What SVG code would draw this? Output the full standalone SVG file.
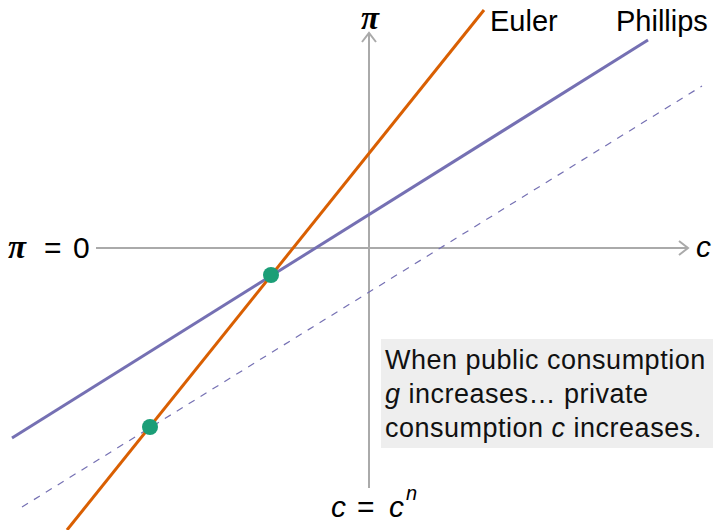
<svg xmlns="http://www.w3.org/2000/svg" width="717" height="530" viewBox="0 0 717 530">
<style>
.axis{stroke:#aaaaaa;stroke-width:2;fill:none}
.euler{stroke:#d95f02;stroke-width:3;fill:none}
.phil{stroke:#7570b3;stroke-width:3;fill:none}
.phil2{stroke:#7570b3;stroke-width:1.2;fill:none;stroke-dasharray:7 7}
.dot{fill:#1b9e77}
.lbl{font-family:"Liberation Sans",Arial,sans-serif;font-size:29px;fill:#000}
.math{font-family:"Liberation Sans",Arial,sans-serif;font-size:30px;fill:#000}
.mi{font-style:italic}
.pi{font-family:"Liberation Serif","Times New Roman",serif;font-style:italic;font-weight:bold;font-size:33px;fill:#000}
.note{font-family:"Liberation Sans",Arial,sans-serif;font-size:27px;fill:#111;letter-spacing:0.5px}
</style>
<rect width="717" height="530" fill="#ffffff"/>
<g id="axes">
<line class="axis" x1="96" y1="248" x2="688" y2="248"/>
<polyline class="axis" points="679,241 688,248 679,255"/>
<line class="axis" x1="369" y1="488" x2="369" y2="33"/>
<polyline class="axis" points="362,42 369,33 376,42"/>
</g>
<g id="connectors">
<line class="phil2" x1="22" y1="507" x2="702" y2="86"/>
<line class="phil" x1="12" y1="438" x2="648" y2="40"/>
<line class="euler" x1="67" y1="530" x2="484" y2="10"/>
</g>
<g id="dot-old"><circle class="dot" cx="271" cy="275" r="8"/></g>
<g id="dot-new"><circle class="dot" cx="150" cy="427" r="8"/></g>
<g id="label-euler"><text class="lbl" x="490" y="31">Euler</text></g>
<g id="label-phillips"><text class="lbl" x="616" y="31">Phillips</text></g>
<g id="label-pi"><text class="pi" x="361" y="29">π</text></g>
<g id="label-pi0"><text class="pi" x="8" y="258">π</text><text class="math" x="44" y="258">=</text><text class="math" x="73" y="258">0</text></g>
<g id="label-c"><text class="math mi" x="696" y="257">c</text></g>
<g id="label-cn"><text class="math mi" x="331" y="517">c</text><text class="math" x="357" y="517">=</text><text class="math mi" x="389" y="517">c</text><text class="math mi" x="406" y="500" style="font-size:20px">n</text></g>
<g id="note">
<rect x="381" y="339" width="332" height="109" fill="#eeeeee"/>
<text class="note" x="385" y="369">When public consumption</text>
<text class="note" x="385" y="403"><tspan font-style="italic">g</tspan> increases… private</text>
<text class="note" x="385" y="437">consumption <tspan font-style="italic">c</tspan> increases.</text>
</g>
</svg>
